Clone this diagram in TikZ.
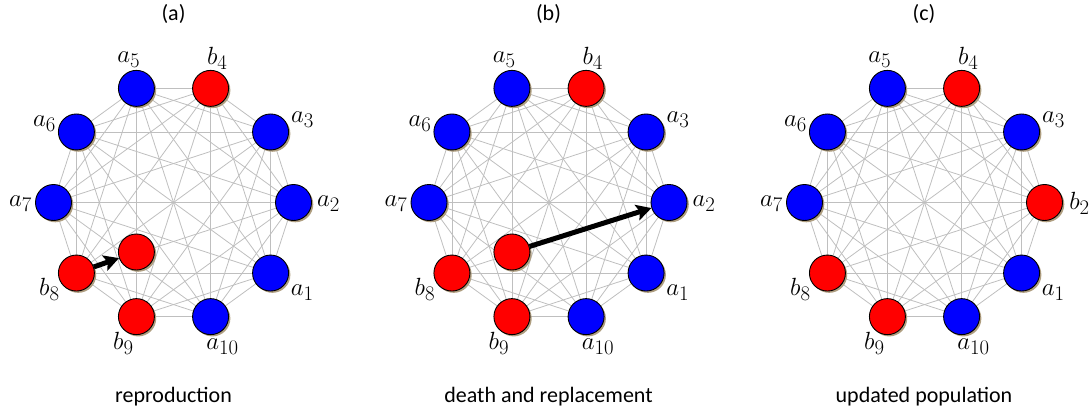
\documentclass[tikz,border=0pt]{standalone}
\usepackage{fontspec}
\setmainfont{Carlito}
\usetikzlibrary{shadows,arrows.meta,backgrounds,calc}
\definecolor{shadowc}{RGB}{175,158,128}
\begin{document}
\begin{tikzpicture}[x=1pt,y=1pt,
  vert/.style={circle,draw=black,line width=0.9pt,minimum size=36pt,inner sep=0pt,
    drop shadow={shadow xshift=1.8pt,shadow yshift=-1.8pt,fill=shadowc,opacity=1}},
  bl/.style={vert,fill=blue},
  rd/.style={vert,fill=red},
  edge/.style={draw=black!25,line width=0.8pt},
  lab/.style={font=\fontsize{24.88}{30}\selectfont,inner sep=0pt},
  arr/.style={line width=5pt,-{Stealth[length=15pt,width=16pt,inset=3pt]}},
  captxt/.style={font=\fontsize{22}{26}\selectfont,inner sep=0pt}]
\useasboundingbox (0,0) rectangle (1091,-412);

% label offsets (dx,dy) of each vertex label from its vertex
\def\laboffsets{1/31.6/-20,2/35/-1,3/32/12,4/6.6/30,5/-7.6/29,6/-32/8,7/-33/-1,8/-27/-16,9/-13/-27,10/12/-30}

% ---------- panel (a)
\coordinate (Ac) at (173.5,-202.5);
\foreach \k/\s in {1/bl,2/bl,3/bl,4/rd,5/bl,6/bl,7/bl,8/rd,9/rd,10/bl}
  \node[\s] (A\k) at ($(Ac)+({(\k-2)*36}:120)$) {};
\foreach \k/\l in {1/a_1,2/a_2,3/a_3,4/b_4,5/a_5,6/a_6,7/a_7,8/b_8,9/b_9,10/a_{10}}
  \foreach \kk/\dx/\dy in \laboffsets {\ifnum\kk=\k \node[lab] (LA\k) at ($(A\k)+(\dx,\dy)$) {$\l$};\fi}
\node[rd] (Ai) at ($(Ac)+(-37.1,-49.5)$) {};
\begin{scope}[on background layer]
\foreach \i in {1,...,10}{\foreach \j in {1,...,10}{\ifnum\j>\i \draw[edge] (A\i) -- (A\j);\fi}}
\end{scope}
\draw[arr] (A8) -- (Ai);

% ---------- panel (b)
\coordinate (Bc) at (549,-202.5);
\foreach \k/\s in {1/bl,2/bl,3/bl,4/rd,5/bl,6/bl,7/bl,8/rd,9/rd,10/bl}
  \node[\s] (B\k) at ($(Bc)+({(\k-2)*36}:120)$) {};
\foreach \k/\l in {1/a_1,2/a_2,3/a_3,4/b_4,5/a_5,6/a_6,7/a_7,8/b_8,9/b_9,10/a_{10}}
  \foreach \kk/\dx/\dy in \laboffsets {\ifnum\kk=\k \node[lab] (LB\k) at ($(B\k)+(\dx,\dy)$) {$\l$};\fi}
\node[rd] (Bi) at ($(Bc)+(-37.1,-49.5)$) {};
\begin{scope}[on background layer]
\foreach \i in {1,...,10}{\foreach \j in {1,...,10}{\ifnum\j>\i \draw[edge] (B\i) -- (B\j);\fi}}
\end{scope}
\draw[arr] (Bi) -- (B2);

% ---------- panel (c)
\coordinate (Cc) at (924.5,-202.5);
\foreach \k/\s in {1/bl,2/rd,3/bl,4/rd,5/bl,6/bl,7/bl,8/rd,9/rd,10/bl}
  \node[\s] (C\k) at ($(Cc)+({(\k-2)*36}:120)$) {};
\foreach \k/\l in {1/a_1,2/b_2,3/a_3,4/b_4,5/a_5,6/a_6,7/a_7,8/b_8,9/b_9,10/a_{10}}
  \foreach \kk/\dx/\dy in \laboffsets {\ifnum\kk=\k \node[lab] (LC\k) at ($(C\k)+(\dx,\dy)$) {$\l$};\fi}
\begin{scope}[on background layer]
\foreach \i in {1,...,10}{\foreach \j in {1,...,10}{\ifnum\j>\i \draw[edge] (C\i) -- (C\j);\fi}}
\end{scope}

% ---------- titles and captions
\node[captxt] (ta) at (173.5,-14) {(a)};
\node[captxt] (tb) at (548.5,-14) {(b)};
\node[captxt] (tc) at (924,-14) {(c)};
\node[captxt] (ca) at (173.5,-397) {reproduction};
\node[captxt] (cb) at (548.5,-397) {death and replacement};
\node[captxt] (cc) at (924,-397) {updated population};
\end{tikzpicture}
\end{document}
